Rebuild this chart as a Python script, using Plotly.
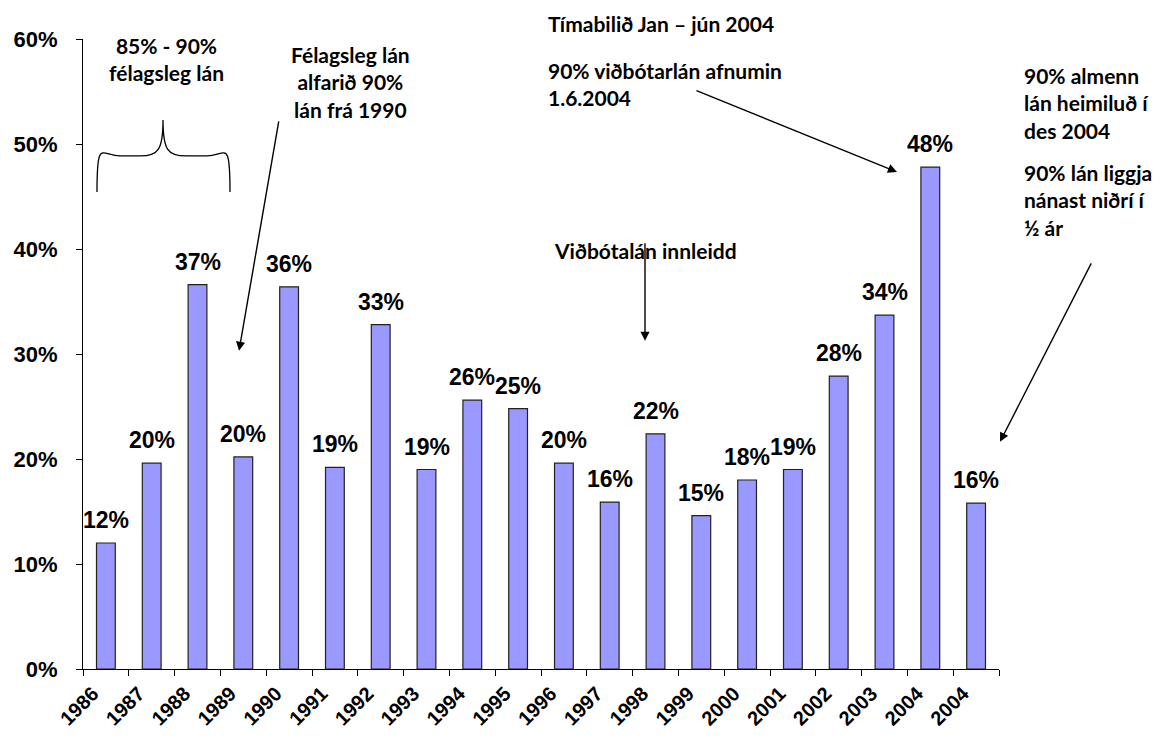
import plotly.graph_objects as go

years = ["1986", "1987", "1988", "1989", "1990", "1991", "1992", "1993", "1994", "1995",
         "1996", "1997", "1998", "1999", "2000", "2001", "2002", "2003", "2004", "2004"]
shares = [0.120, 0.196, 0.366, 0.202, 0.364, 0.192, 0.328, 0.190, 0.256, 0.248,
          0.196, 0.159, 0.224, 0.146, 0.180, 0.190, 0.279, 0.337, 0.478, 0.158]
y_ticks = [0, 0.1, 0.2, 0.3, 0.4, 0.5, 0.6]

xpos = list(range(len(years)))
labels = [f"{round(v * 100)}%" for v in shares]

BAR = "#9999FF"
NUMFONT = "Liberation Sans"
TXTFONT = "Lato"

# page geometry (browser body has an 8px margin)
PLOT_L, PLOT_R, PLOT_T, PLOT_B = 83, 999, 39, 669.3
BODY = 8
FIG_W, FIG_H = 1153, 725

def xp(px):
    return (px - PLOT_L) / (PLOT_R - PLOT_L)

def yp(py):
    return (PLOT_B - py) / (PLOT_B - PLOT_T)

fig = go.Figure()
fig.add_trace(go.Bar(
    x=xpos, y=shares, width=0.41,
    marker=dict(color=BAR, line=dict(color="#222222", width=1.2)),
    hoverinfo="skip",
))

# data labels
for x, v, t in zip(xpos, shares, labels):
    fig.add_annotation(x=x, y=v, text=t, showarrow=False, yanchor="bottom", yshift=8,
                       font=dict(family=NUMFONT, size=23, color="black", weight="bold"))

afont = dict(family=TXTFONT, size=21, color="black", weight="bold")

texts = [
    (166, 59, "85% - 90%<br>félagsleg lán", "center"),
    (350, 82, "Félagsleg lán<br>alfarið 90%<br>lán frá 1990", "center"),
    (546, 23, "Tímabilið Jan – jún 2004", "left"),
    (546, 84, "90% viðbótarlán afnumin<br>1.6.2004", "left"),
    (645, 251, "Viðbótalán innleidd", "center"),
    (1022, 103, "90% almenn<br>lán heimiluð í<br>des 2004", "left"),
    (1022, 200, "90% lán liggja<br>nánast niðrí í<br>½ ár", "left"),
]
for px, py, t, anc in texts:
    fig.add_annotation(x=xp(px), y=yp(py), xref="paper", yref="paper", text=t, showarrow=False,
                       xanchor=anc, yanchor="middle", align=anc, font=afont)

# arrows (tail -> tip), page pixels
arrows = [((279, 120), (239, 351)), ((695, 90), (897, 172)), ((645, 242), (645, 341)),
          ((1092, 262), (1000, 442))]
for (tx, ty), (hx, hy) in arrows:
    fig.add_annotation(x=xp(hx), y=yp(hy), xref="paper", yref="paper",
                       ax=tx - hx, ay=ty - hy, axref="pixel", ayref="pixel",
                       text="", showarrow=True, arrowhead=2, arrowsize=1.3, arrowwidth=1.4,
                       arrowcolor="black")

# curly brace
L, R, C = xp(97), xp(230), xp(163)
yb, yh, yk = yp(192), yp(156), yp(120)
dx = 0.025
cy = 0.03
path = (f"M {L},{yb} C {L},{yh + cy} {L + 0.005},{yh} {L + dx},{yh} "
        f"L {C - dx},{yh} C {C - 0.005},{yh} {C},{yh + 0.01} {C},{yk} "
        f"C {C},{yh + 0.01} {C + 0.005},{yh} {C + dx},{yh} "
        f"L {R - dx},{yh} C {R - 0.005},{yh} {R},{yh + cy} {R},{yb}")
fig.add_shape(type="path", path=path, xref="paper", yref="paper",
              line=dict(color="black", width=1.3))

fig.update_layout(
    width=FIG_W, height=FIG_H,
    margin=dict(l=PLOT_L - BODY, r=FIG_W - (PLOT_R - BODY), t=PLOT_T - BODY,
                b=FIG_H - (PLOT_B - BODY)),
    paper_bgcolor="white", plot_bgcolor="white",
    showlegend=False,
    xaxis=dict(
        range=[-0.5, len(years) - 0.5], tickmode="array", tickvals=xpos, ticktext=years,
        tickangle=-45, ticks="", showline=True, linecolor="black", linewidth=1.2,
        showgrid=False, zeroline=False, automargin=False,
        tickfont=dict(family=NUMFONT, size=20, color="black", weight="bold"),
        ticklabelshift=-13, ticklabelstandoff=4,
        minor=dict(tickmode="linear", tick0=-0.5, dtick=1, ticks="outside", ticklen=6,
                   tickcolor="black", tickwidth=1.2, showgrid=False),
    ),
    yaxis=dict(
        range=[0, 0.6], tickmode="array", tickvals=y_ticks,
        ticktext=[f"{round(t * 100)}%" for t in y_ticks],
        ticks="outside", ticklen=6, tickcolor="black", tickwidth=1.2,
        showline=True, linecolor="black", linewidth=1.2, showgrid=False, zeroline=False,
        automargin=False, ticklabelstandoff=14,
        tickfont=dict(family=NUMFONT, size=22, color="black", weight="bold"),
    ),
)

fig.write_html("out.html")
